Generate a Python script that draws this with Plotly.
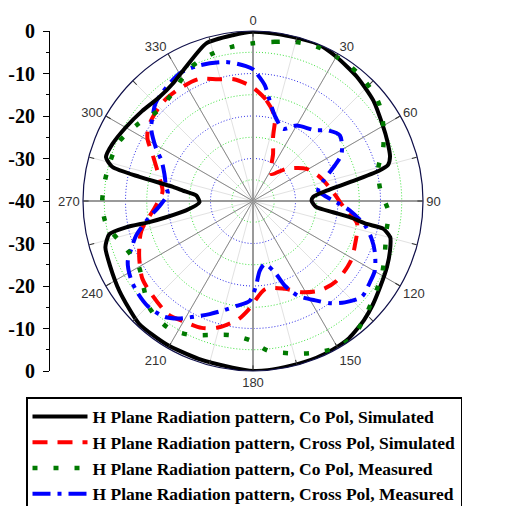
import plotly.graph_objects as go

# ---------------- data (angle in degrees, level in dB) ----------------
co_sim_theta = [0, 10, 22, 30, 40, 50, 60, 66, 72, 75, 76.5, 79, 82, 86, 90, 95.6, 98, 99.5,
                101.4, 102, 104.8, 110, 116, 124, 131, 137, 145, 152, 158, 167, 175, 180,
                187, 199, 211, 223, 236, 246, 252.6, 257, 258.3, 258.5, 259.4, 262, 268.7,
                275.5, 278.5, 280, 282, 283.6, 286.6, 292, 300, 309, 318, 326, 333.5, 343.5,
                353, 360]
co_sim_db = [-0.2, -0.3, 0, -0.8, -1.9, -3.1, -4.7, -5.4, -6.1, -7.1, -9.5, -16.8, -22.5, -25.8,
             -26.2, -25.0, -21.0, -16.9, -12.7, -8.7, -6.6, -5.7, -4.9, -3.9, -2.7, -1.7, -0.6,
             -0.3, -0.2, -0.2, 0, 0, -0.5, -0.7, -0.6, -0.6, -2.1, -3.1, -3.6, -5.3, -9.5,
             -15.1, -19.2, -24.1, -27.4, -26.6, -23.3, -20.9, -12.7, -6.0, -3.9, -4.3, -5.4,
             -6.4, -7.1, -6.5, -4.7, -1.3, -0.7, -0.2]

cross_sim_theta = [0, 7.6, 14.5, 17.4, 23, 34, 46, 59, 72, 84, 96, 102, 114, 122, 134, 143,
                   152, 160, 172, 182, 187, 195.5, 202, 210, 217, 229, 235, 244, 255, 266,
                   276, 284, 294, 301, 307, 318, 327, 336, 344, 351, 358, 360]
cross_sim_db = [-13.3, -16.1, -19.6, -24.2, -27.9, -32.3, -29.1, -25.3, -23.0, -21.0, -17.9,
                -15.0, -13.8, -13.0, -12.8, -13.7, -15.7, -18.0, -19.1, -14.6, -12.0, -9.1,
                -7.8, -7.3, -6.7, -7.7, -8.2, -10.2, -12.8, -16.8, -18.6, -17.3, -14.3, -11.0,
                -9.6, -8.5, -8.4, -8.6, -10.2, -11.0, -12.7, -13.3]

co_meas_theta = [0, 7.8, 14.7, 22.4, 30.4, 39.5, 49.1, 53.5, 60.4, 68.1, 75.6, 85.3, 94.7,
                 103.2, 111.8, 120.1, 128, 135.9, 144, 152, 159.5, 166.7, 174.3, 180.7, 189.2,
                 197.7, 205.6, 213.9, 224.1, 231.7, 240.1, 251, 260.5, 268.7, 276.8, 284.8,
                 293.7, 304.1, 314.3, 325.4, 334.4, 344.1, 352.2, 360]
co_meas_db = [-2.9, -2.2, -1.3, -0.7, -0.8, -1.1, -2.0, -2.8, -4.7, -7.0, -9.6, -9.9, -8.0,
              -7.8, -6.6, -5.0, -3.8, -2.1, -0.3, -0.5, -1.8, -3.2, -4.6, -7.1, -8.0, -6.9,
              -5.1, -4.1, -5.0, -7.2, -9.0, -7.8, -5.1, -4.5, -4.8, -5.1, -5.5, -7.5, -9.2,
              -7.9, -5.4, -4.1, -3.4, -2.9]

cross_meas_theta = [0, 2, 5.8, 9.4, 14.2, 22.6, 30, 41, 47, 53, 62, 66.5, 74, 81, 86, 91, 95.6,
                    102.4, 107.7, 112.8, 119.7, 124.8, 131.4, 137.8, 143, 147.5, 154.5, 159.4,
                    163, 169.4, 174.5, 178, 181.9, 189, 196, 201, 208.6, 212.6, 217.4, 225,
                    231.5, 237.4, 244, 248.5, 253.7, 260.5, 267, 274.8, 279, 287, 294, 298.4,
                    305.4, 310.5, 315.6, 330, 338.5, 349, 357, 360]
cross_meas_db = [-9.0, -10.2, -12.6, -16.0, -19.2, -21.6, -19.5, -17.9, -15.7, -14.4, -16.4,
                 -19.0, -22.8, -24.5, -23.0, -20.3, -17.1, -13.0, -10.7, -8.9, -7.0, -6.5, -5.9,
                 -7.8, -9.9, -12.2, -15.3, -18.7, -22.4, -24.9, -23.5, -20.0, -16.5, -15.0,
                 -13.1, -11.5, -8.8, -7.2, -5.7, -5.0, -5.3, -5.9, -7.2, -9.2, -11.4, -15.0,
                 -18.0, -19.9, -19.3, -18.2, -16.4, -14.1, -10.6, -9.0, -7.4, -5.4, -5.7, -6.7,
                 -8.2, -9.0]

series_names = ["H Plane Radiation pattern, Co Pol, Simulated",
                "H Plane Radiation pattern, Cross Pol, Simulated",
                "H Plane Radiation pattern, Co Pol, Measured",
                "H Plane Radiation pattern, Cross Pol, Measured"]

angle_labels = [str(a) for a in range(0, 360, 30)]
left_tick_vals = [-40, -30, -20, -10, 0, 10, 20, 30, 40]
left_tick_text = ["0", "-10", "-20", "-30", "-40", "-30", "-20", "-10", "0"]

grid_green = [-35, -25, -15, -5]
grid_blue = [-30, -20, -10]
R_MIN, R_MAX = -40, 0

# ---------------- figure ----------------
W, H = 508, 506
fig = go.Figure()

circle_theta = list(range(0, 361, 2))
for lv in grid_green:
    fig.add_trace(go.Scatterpolar(r=[lv] * len(circle_theta), theta=circle_theta, mode="lines",
                                  line=dict(color="#3ee03e", width=1, dash="1px,2px"),
                                  showlegend=False, hoverinfo="skip"))
for lv in grid_blue:
    fig.add_trace(go.Scatterpolar(r=[lv] * len(circle_theta), theta=circle_theta, mode="lines",
                                  line=dict(color="#2a2ae6", width=1, dash="1px,2px"),
                                  showlegend=False, hoverinfo="skip"))
for a in range(0, 360, 30):
    main = a % 90 == 0
    fig.add_trace(go.Scatterpolar(r=[R_MIN, R_MAX], theta=[a, a], mode="lines",
                                  line=dict(color="#9a9a9a" if main else "#8a8a8a",
                                            width=2 if main else 1),
                                  showlegend=False, hoverinfo="skip"))

fig.add_trace(go.Scatterpolar(r=cross_sim_db, theta=cross_sim_theta, mode="lines",
                              name=series_names[1], legendrank=2,
                              line=dict(color="#ff0000", width=4, dash="15px,10px", shape="spline", smoothing=0.8)))
fig.add_trace(go.Scatterpolar(r=cross_meas_db, theta=cross_meas_theta, mode="lines",
                              name=series_names[3], legendrank=4,
                              line=dict(color="#0000ff", width=4, dash="18px,7px,4px,7px", shape="spline", smoothing=0.8)))
fig.add_trace(go.Scatterpolar(r=co_sim_db, theta=co_sim_theta, mode="lines",
                              name=series_names[0], legendrank=1,
                              line=dict(color="#000000", width=4, shape="spline", smoothing=0.6)))
fig.add_trace(go.Scatterpolar(r=co_meas_db, theta=co_meas_theta, mode="lines",
                              name=series_names[2], legendrank=3,
                              line=dict(color="#007a00", width=4.5, dash="5px,16px", shape="spline", smoothing=0.8)))

# dummy cartesian trace so the left linear scale is drawn
fig.add_trace(go.Scatter(x=[None], y=[None], xaxis="x", yaxis="y", showlegend=False,
                         hoverinfo="skip"))

cx0, cx1 = 83 / W, 423 / W
cy0, cy1 = 1 - 371 / H, 1 - 31 / H

fig.update_layout(
    width=W, height=H,
    margin=dict(l=0, r=0, t=0, b=0, autoexpand=False),
    paper_bgcolor="white", plot_bgcolor="white",
    polar=dict(
        domain=dict(x=[cx0, cx1], y=[cy0, cy1]),
        bgcolor="white",
        radialaxis=dict(range=[R_MIN, R_MAX], showgrid=False, showline=False,
                        showticklabels=False, ticks=""),
        angularaxis=dict(rotation=90, direction="clockwise",
                         tickvals=list(range(0, 360, 15)),
                         ticktext=[angle_labels[i // 2] if i % 2 == 0 else "" for i in range(24)],
                         showgrid=True, gridcolor="#e2e2e2", gridwidth=1,
                         showline=True, linecolor="#10104a", linewidth=1.2,
                         ticks="inside", ticklen=5, tickcolor="#333333",
                         tickfont=dict(family="Liberation Sans", size=13, color="#333333")),
    ),
    xaxis=dict(domain=[49 / W, 60 / W], visible=False, range=[0, 1]),
    yaxis=dict(domain=[cy0, cy1], anchor="free", position=49 / W, side="left",
               range=[-40, 40], tickvals=left_tick_vals, ticktext=left_tick_text,
               ticks="outside", ticklen=6, tickwidth=1.2, tickcolor="black",
               showline=True, linecolor="black", linewidth=1.2,
               showgrid=False, zeroline=False,
               minor=dict(dtick=5, ticks="outside", ticklen=3, tickcolor="black", tickwidth=1),
               ticklabelstandoff=4,
               tickfont=dict(family="Liberation Serif", size=20, color="black", weight="bold")),
    legend=dict(x=26 / W, y=1 - 397 / H, xanchor="left", yanchor="top",
                bordercolor="black", borderwidth=1.5, bgcolor="white",
                itemwidth=55, tracegroupgap=0,
                font=dict(family="Liberation Serif", size=17.5, color="black", weight="bold")),
)

fig.write_html("out.html", config={"displayModeBar": False},
               post_script="document.body.style.margin='0px';")
